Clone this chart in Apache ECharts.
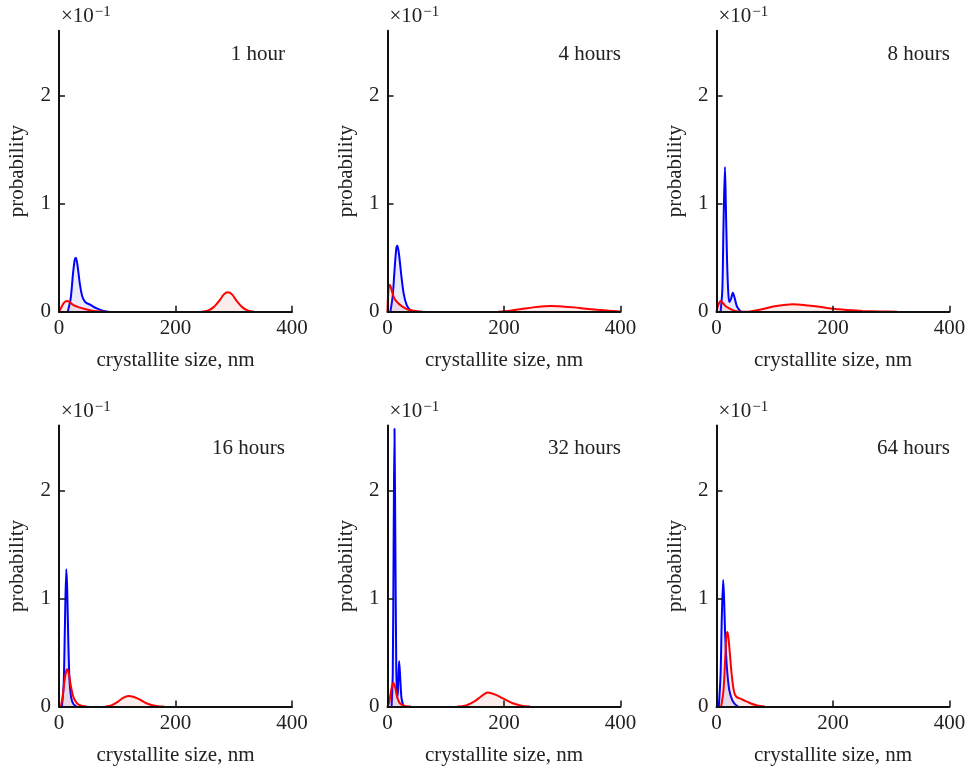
<!DOCTYPE html>
<html lang="en">
<head>
  <meta charset="UTF-8">
  <title>Crystallite size distributions</title>
  <script src="https://cdn.jsdelivr.net/npm/echarts@6/dist/echarts.min.js"></script>
  <style>
    body { margin: 0; background: #fff; }
    #chart { width: 971px; height: 767px; }
  </style>
</head>
<body>
  <div id="chart"></div>
  <script>
    // panel labels (annealing time)
    const panelLabels = ['1 hour', '4 hours', '8 hours', '16 hours', '32 hours', '64 hours'];
    const xTicks = [0, 200, 400];
    const yTicks = [0, 1, 2];   // probability, x10^-1

    // [size nm, probability x10^-1]; null = gap where the curve sits on the axis
    const blue1h = [[15,0],[20,0.12],[24,0.35],[27,0.48],[29,0.50],[32,0.42],[36,0.25],[40,0.14],[45,0.09],[55,0.06],[65,0.03],[75,0.01],[85,0]];
    const red1h  = [[0,0],[4,0.04],[8,0.08],[13,0.10],[18,0.09],[25,0.06],[35,0.04],[45,0.025],[55,0.012],[65,0.005],[80,0],[160,null],[245,0],[255,0.01],[265,0.04],[275,0.10],[283,0.16],[290,0.18],[297,0.16],[305,0.10],[315,0.04],[325,0.01],[335,0]];

    const blue4h = [[5,0],[9,0.15],[12,0.38],[15,0.58],[17,0.61],[20,0.52],[24,0.32],[28,0.16],[33,0.06],[38,0.02],[44,0]];
    const red4h  = [[0,0],[1,0.15],[3,0.25],[5,0.24],[8,0.18],[12,0.12],[18,0.08],[25,0.05],[35,0.02],[45,0.01],[60,0],[120,null],[190,0],[210,0.01],[230,0.025],[250,0.04],[270,0.05],[280,0.052],[300,0.048],[320,0.04],[340,0.028],[360,0.017],[380,0.008],[400,0.003]];

    const blue8h = [[7,0],[10,0.2],[12,0.8],[14.5,1.34],[16,1.0],[18,0.5],[20,0.2],[22,0.09],[25,0.12],[28,0.175],[31,0.13],[35,0.05],[40,0.01],[42,0]];
    const red8h  = [[0,0],[3,0.06],[7,0.10],[11,0.08],[16,0.05],[22,0.03],[30,0.01],[40,0.002],[50,0],[60,0.005],[80,0.025],[100,0.05],[120,0.065],[130,0.068],[150,0.063],[170,0.05],[190,0.035],[210,0.022],[230,0.013],[250,0.007],[280,0.002],[310,0]];

    const blue16h = [[5,0],[8,0.2],[10,0.7],[12.5,1.27],[14,1.1],[16,0.6],[18,0.25],[21,0.08],[25,0.02],[30,0]];
    const red16h  = [[3,0],[6,0.08],[9,0.22],[12,0.32],[14,0.345],[17,0.3],[20,0.2],[24,0.1],[28,0.05],[33,0.02],[40,0.005],[48,0],[64,null],[80,0],[90,0.01],[100,0.04],[110,0.08],[119,0.098],[130,0.085],[140,0.06],[150,0.03],[160,0.012],[170,0.003],[180,0]];

    const blue32h = [[7,0],[9,0.3],[10.5,1.5],[12,2.57],[13.5,1.5],[15,0.4],[16.5,0.08],[18,0.15],[20,0.42],[22,0.25],[24,0.08],[27,0.01],[29,0]];
    const red32h  = [[0,0],[3,0.04],[6,0.14],[9.7,0.22],[13,0.18],[16,0.1],[20,0.04],[25,0.015],[32,0.003],[40,0],[80,null],[120,0],[135,0.01],[150,0.05],[160,0.09],[172,0.13],[185,0.11],[200,0.07],[215,0.03],[230,0.008],[245,0]];

    const blue64h = [[4,0],[7,0.3],[9,0.8],[11.5,1.17],[13,1.0],[15,0.65],[18,0.35],[22,0.15],[27,0.06],[32,0.02],[37,0]];
    const red64h  = [[8,0],[12,0.15],[15,0.45],[17,0.65],[19,0.69],[22,0.55],[26,0.3],[30,0.14],[34,0.09],[42,0.07],[50,0.05],[60,0.025],[70,0.01],[83,0]];

    const blueSets = [blue1h, blue4h, blue8h, blue16h, blue32h, blue64h];
    const redSets  = [red1h, red4h, red8h, red16h, red32h, red64h];

    const FONT = '"Liberation Serif", "DejaVu Serif", serif';
    const FS = 21;
    const gridLefts = [59, 387.5, 716.5];
    const gridTops = [30.7, 425.5];
    const labelRights = [686, 350, 21];
    const labelTops = [44, 438];

    const chart = echarts.init(document.getElementById('chart'), null, { renderer: 'canvas' });

    const grids = [], xAxes = [], yAxes = [], series = [], titles = [], graphics = [];
    panelLabels.forEach(function (label, i) {
      const col = i % 3, row = Math.floor(i / 3);
      grids.push({ left: gridLefts[col], top: gridTops[row], width: 233, height: 281 });
      xAxes.push({
        type: 'value', gridIndex: i, min: 0, max: 400, z: 5,
        name: 'crystallite size, nm', nameLocation: 'middle', nameGap: 38,
        nameTextStyle: { fontFamily: FONT, fontSize: FS, color: '#222' },
        axisLine: { show: true, onZero: false, lineStyle: { color: '#111', width: 2 } },
        axisTick: { show: true, inside: true, length: 6, customValues: xTicks, lineStyle: { color: '#111', width: 1.5 } },
        axisLabel: { customValues: xTicks, margin: 6, fontFamily: FONT, fontSize: FS, color: '#222' },
        splitLine: { show: false }
      });
      yAxes.push({
        type: 'value', gridIndex: i, min: 0, max: 2.6, z: 5,
        name: 'probability', nameLocation: 'middle', nameGap: 31,
        nameTextStyle: { fontFamily: FONT, fontSize: FS, color: '#222' },
        axisLine: { show: true, lineStyle: { color: '#111', width: 2 } },
        axisTick: { show: true, inside: true, length: 6, customValues: yTicks, lineStyle: { color: '#111', width: 1.5 } },
        axisLabel: { customValues: yTicks, margin: 8, fontFamily: FONT, fontSize: FS, color: '#222' },
        splitLine: { show: false }
      });
      series.push({
        type: 'line', xAxisIndex: i, yAxisIndex: i, data: blueSets[i],
        smooth: 0.3, symbol: 'none', z: 2, connectNulls: false,
        lineStyle: { color: '#0000ff', width: 2 },
        areaStyle: { color: 'rgba(70,70,220,0.16)' }
      });
      series.push({
        type: 'line', xAxisIndex: i, yAxisIndex: i, data: redSets[i],
        smooth: 0.3, symbol: 'none', z: 3, connectNulls: false,
        lineStyle: { color: '#ff0000', width: 2 },
        areaStyle: { color: 'rgba(225,50,50,0.13)' }
      });
      titles.push({
        text: label, right: labelRights[col], top: labelTops[row], padding: 0,
        textStyle: { fontFamily: FONT, fontSize: FS, fontWeight: 'normal', color: '#222' }
      });
      graphics.push({
        type: 'text', left: gridLefts[col] + 2, top: gridTops[row] - 26,
        style: {
          text: '×10{s|−1}', fontFamily: FONT, fontSize: FS, fill: '#222',
          rich: { s: { fontFamily: FONT, fontSize: 15, verticalAlign: 'top', padding: [0, 0, 9, 1], fill: '#222' } }
        }
      });
    });

    chart.setOption({
      backgroundColor: '#fff',
      animation: false,
      title: titles,
      grid: grids,
      xAxis: xAxes,
      yAxis: yAxes,
      series: series,
      graphic: graphics
    });
  </script>
</body>
</html>
